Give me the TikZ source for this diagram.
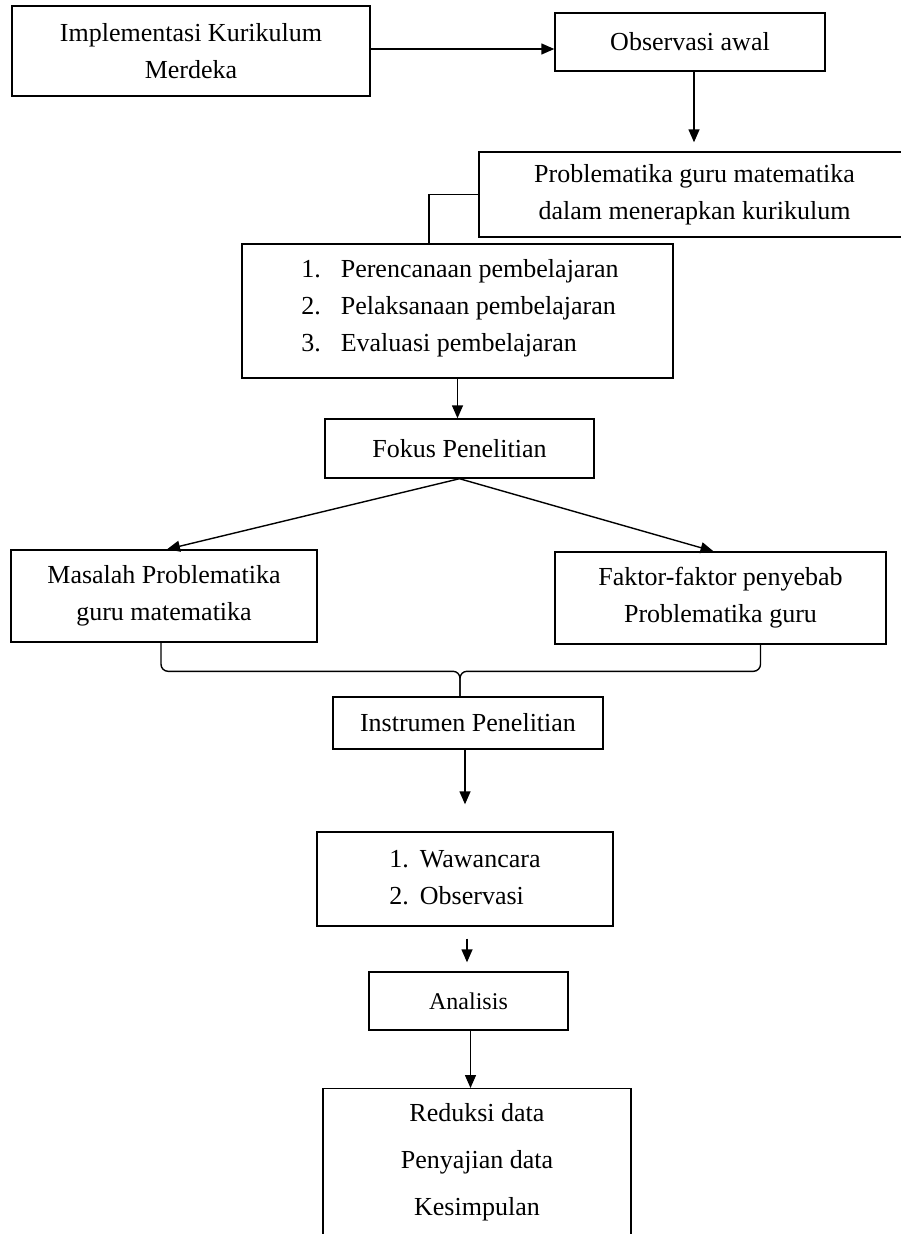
\documentclass[tikz,border=0pt]{standalone}
\usepackage{fontspec}
\setmainfont{Liberation Serif}
\usetikzlibrary{arrows.meta}

\begin{document}
\begin{tikzpicture}[x=1pt,y=-1pt,every node/.style={draw,line width=1.4pt,align=center,inner sep=0pt,font=\fontsize{26}{37}\selectfont},
				line/.style={line width=1.4pt},arr/.style={-{Triangle[length=13pt,width=11pt]}}
				]
				\useasboundingbox (0,0) rectangle (901,1234);
				\clip (0,0) rectangle (901,1234);
				% boxes
				\node[minimum width=358pt,minimum height=90pt](impl) at (191,51){Implementasi Kurikulum\\Merdeka};
				\node[minimum width=270pt,minimum height=58pt](obs) at (690,42){Observasi awal};
				\node[minimum width=431pt,minimum height=85pt](problem) at (694.5,194.5){Problematika guru matematika\\dalam menerapkan kurikulum};
				\node[minimum width=431pt,text height=69.5pt,text depth=64.5pt](aspek) at (457.5,311){\hspace*{5pt}\begin{tabular}{@{}l@{\hspace{20pt}}l@{}}1. & Perencanaan pembelajaran\\2. & Pelaksanaan pembelajaran\\3. & Evaluasi pembelajaran\end{tabular}};
				\node[minimum width=269pt,minimum height=59pt](fokus) at (459.5,448.5){Fokus Penelitian};
				\node[minimum width=306pt,minimum height=92pt](masalah) at (164,596){Masalah Problematika\\guru matematika};
				\node[minimum width=331pt,minimum height=92pt](faktor) at (720.5,598){Faktor-faktor penyebab\\Problematika guru};
				\node[minimum width=270pt,minimum height=52pt](instr) at (468,723){Instrumen Penelitian};
				\node[minimum width=296pt,minimum height=94pt](metode) at (465,879){\begin{tabular}{@{}l@{\hspace{11pt}}l@{}}1. & Wawancara\\2. & Observasi\end{tabular}};
				\node[minimum width=199pt,minimum height=58pt,font=\fontsize{24}{30}\selectfont](analisis) at (468.5,1001){Analisis};
				\node[minimum width=308pt,anchor=north,inner ysep=15pt,font=\fontsize{26}{47}\selectfont](hasil) at (477,1088){Reduksi data\\Penyajian data\\Kesimpulan\\\rule{0pt}{60pt}};
				% connectors
				\draw[line,arr] ([yshift=2pt]impl.east) -- ([yshift=2pt]impl.east -| obs.west);
				\draw[line,arr,shorten >=9pt] ([xshift=4pt]obs.south) -- ([xshift=4pt]obs.south |- problem.north);
				\draw[line] (problem.west) -| ([xshift=-28.5pt]aspek.north);
				\draw[line,arr] (aspek.south) -- (aspek.south |- fokus.north);
				\draw[line,arr] (fokus.south) -- ([xshift=3pt]masalah.north);
				\draw[line,arr] (fokus.south) -- ([xshift=-7pt]faktor.north);
				\coordinate (cusp) at ([xshift=-8pt]instr.north);
				\coordinate (knot) at ([yshift=25pt]cusp);
				\draw[line,rounded corners=7pt] ([xshift=-3pt]masalah.south) |- (knot) -- (cusp);
				\draw[line,rounded corners=7pt] ([xshift=40pt]faktor.south) |- (knot) -- (cusp);
				\draw[line,arr,shorten >=27pt] ([xshift=-3pt]instr.south) -- ([xshift=-3pt]instr.south |- metode.north);
				\draw[line,arr,shorten <=12pt,shorten >=9pt] ([xshift=2pt]metode.south) -- ([xshift=2pt]metode.south |- analisis.north);
				\draw[line,arr] ([xshift=2pt]analisis.south) -- ([xshift=2pt]analisis.south |- hasil.north);
\end{tikzpicture}
\end{document}
